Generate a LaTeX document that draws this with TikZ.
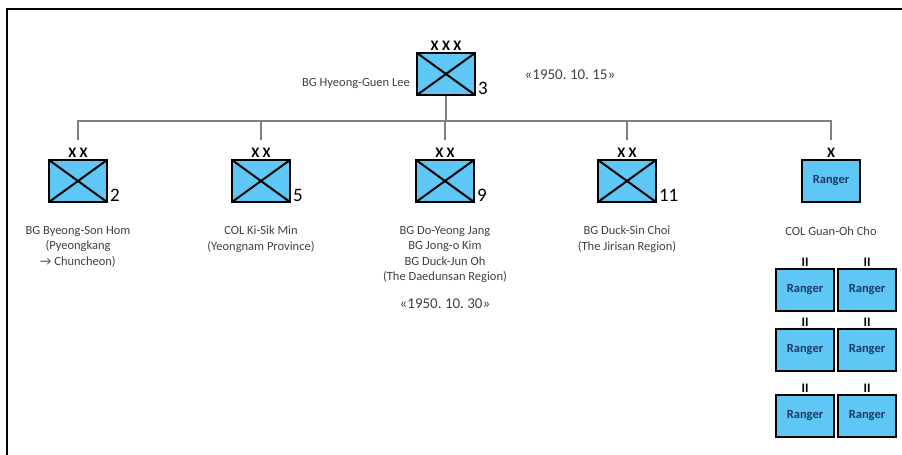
\documentclass[tikz,border=0pt]{standalone}
\usepackage{fontspec}
\setmainfont{Carlito}
\usepackage{xcolor}
\usepackage{tikz}
\frenchspacing

\definecolor{unitblue}{RGB}{94,199,245}
\definecolor{rangernavy}{RGB}{31,56,100}
\definecolor{namegrey}{RGB}{64,64,64}
\definecolor{busgrey}{RGB}{128,128,128}

\tikzset{
    unitbox/.style={draw=black, line width=2.8pt, fill=unitblue, minimum width=58pt, minimum height=42pt, inner sep=0pt},
    infantry/.style={unitbox, path picture={
        \draw[line width=2pt] (path picture bounding box.north west) -- (path picture bounding box.south east)
            (path picture bounding box.south west) -- (path picture bounding box.north east);}},
    ranger/.style={unitbox, font=\fontsize{12.5}{14}\selectfont\bfseries, text=rangernavy},
    echelon/.style={font=\fontsize{14.5}{14.5}\selectfont\bfseries, inner sep=1pt, anchor=south},
    unitnum/.style={font=\fontsize{19}{19}\selectfont, inner sep=1.5pt, anchor=south west},
    cdr/.style={font=\fontsize{12.5}{15.5}\selectfont, text=namegrey, align=center, anchor=north, inner sep=0pt},
    datelabel/.style={font=\fontsize{15}{15}\selectfont, text=namegrey},
    conn/.style={draw=busgrey, line width=1.2pt}
}

\begin{document}
\begin{tikzpicture}[x=1pt, y=-1pt]
    \useasboundingbox (0,0) rectangle (902,455);
    \draw[line width=2pt] (7,455) -- (7,9) -- (902,9);

    % corps
    \node[infantry] (corps) at (446,74) {};
    \node[echelon] (corps-ech) at (corps.north) {X X X};
    \node[unitnum] (corps-num) at (corps.south east) {3};
    \node[cdr, anchor=east] (corps-cdr) at (410,84) {BG Hyeong-Guen Lee};
    \node[datelabel] (date-first) at (570,75) {«1950. 10. 15»};
    \coordinate (bus) at (446,121);
    \draw[conn] (corps.south) -- (bus);

    % divisions and ranger brigade
    \foreach \u/\x/\n in {div2/78/2, div5/261/5, div9/445/9, div11/627/11} {
        \node[infantry] (\u) at (\x,181) {};
        \node[echelon] (\u-ech) at (\u.north) {X X};
        \node[unitnum] (\u-num) at (\u.south east) {\n};
    }
    \node[ranger] (rgr) at (831,181) {Ranger};
    \node[echelon] (rgr-ech) at (rgr.north) {X};

    \foreach \u in {div2-ech, div5-ech, div9-ech, div11-ech, rgr-ech}
        \draw[conn] (bus) -| ([yshift=7pt]\u.north);

    \node[cdr] (div2-cdr) at (78,226) {BG Byeong-Son Hom\\(Pyeongkang\\→ Chuncheon)};
    \node[cdr] (div5-cdr) at (261,226) {COL Ki-Sik Min\\(Yeongnam Province)};
    \node[cdr] (div9-cdr) at (445,226) {BG Do-Yeong Jang\\BG Jong-o Kim\\BG Duck-Jun Oh\\(The Daedunsan Region)};
    \node[datelabel] (date-second) at (445,304) {«1950. 10. 30»};
    \node[cdr] (div11-cdr) at (627,226) {BG Duck-Sin Choi\\(The Jirisan Region)};
    \node[cdr] (rgr-cdr) at (831,227) {COL Guan-Oh Cho};

    % ranger battalions
    \foreach \r/\y in {1/290, 2/350, 3/416}
        \foreach \c/\x in {1/805, 2/867} {
            \node[ranger] (rgrbn\r\c) at (\x,\y) {Ranger};
            \node[echelon, font=\fontsize{13}{13}\selectfont\bfseries] (rgrbn\r\c-ech) at (rgrbn\r\c.north) {II};
        }
\end{tikzpicture}
\end{document}
